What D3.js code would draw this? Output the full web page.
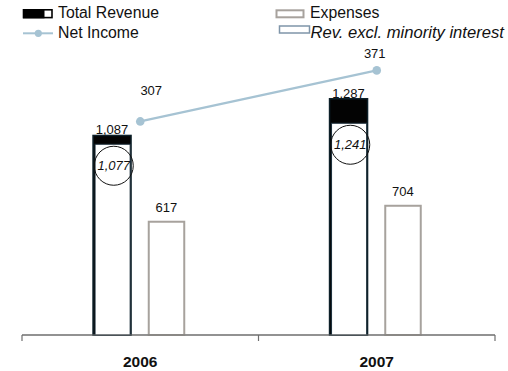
<!DOCTYPE html>
<html>
<head>
<meta charset="utf-8">
<script src="https://cdn.jsdelivr.net/npm/d3@7"></script>
<style>
  html, body { margin: 0; padding: 0; background: #fff; }
  svg { display: block; font-family: "Liberation Sans", Arial, sans-serif; }
</style>
</head>
<body>
<svg id="chart" width="508" height="371"></svg>
<script>
// Annual figures
const years = ["2006", "2007"];
const totalRevenue = [1087, 1287];
const revExclMinority = [1077, 1241];
const expenses = [617, 704];
const netIncome = [307, 371];

// Small nudges for the net income labels
const netLabelNudge = [[11, -26], [-2, -12]];

const svg = d3.select("#chart");
const baseY = 335;

const x = d3.scaleBand().domain(years).range([22, 495]).paddingInner(0).paddingOuter(0);
const yBar = d3.scaleLinear().domain([0, 1400]).range([baseY, 78]);
// secondary axis for the revenue excluding minority interest
const yInner = d3.scaleLinear().domain([-413, 1400]).range([baseY, 102.9]);
// secondary axis for net income
const yLine = d3.scaleLinear().domain([39, 400]).range([baseY, 47.3]);

const cx = d => x(d) + x.bandwidth() / 2;

// Axis
const axis = d3.axisBottom(x).tickSize(0).tickFormat("");
const gAxis = svg.append("g").attr("transform", `translate(0,${baseY})`).call(axis);
gAxis.select(".domain").attr("stroke", "#6f6f6f").attr("stroke-width", 1.2).attr("d", "M22,0H495");
const tickPos = [22, x(years[1]), 495];
gAxis.selectAll("line.sep").data(tickPos).join("line")
  .attr("class", "sep")
  .attr("x1", d => d).attr("x2", d => d)
  .attr("y1", 0).attr("y2", 6)
  .attr("stroke", "#6f6f6f").attr("stroke-width", 1.2);

svg.selectAll("text.cat").data(years).join("text")
  .attr("class", "cat")
  .attr("x", d => cx(d)).attr("y", 366.5)
  .attr("text-anchor", "middle")
  .attr("font-size", 15.5).attr("font-weight", "bold").attr("fill", "#111")
  .text(d => d);

// Total revenue bars (dark fill)
const revW = 38;
svg.selectAll("rect.rev").data(years).join("rect")
  .attr("class", "rev")
  .attr("x", d => cx(d) - 47.2)
  .attr("width", revW)
  .attr("y", (d, i) => yBar(totalRevenue[i]))
  .attr("height", (d, i) => baseY - yBar(totalRevenue[i]))
  .attr("fill", "#030303")
  .attr("stroke", "#0d2029").attr("stroke-width", 1.5);

// Revenue excluding minority interest (white, on top)
svg.selectAll("rect.inner").data(years).join("rect")
  .attr("class", "inner")
  .attr("x", d => cx(d) - 45.2)
  .attr("width", revW - 2.9)
  .attr("y", (d, i) => yInner(revExclMinority[i]))
  .attr("height", (d, i) => baseY - yInner(revExclMinority[i]))
  .attr("fill", "#fff")
  .attr("stroke", "#1c2f3b").attr("stroke-width", 1);

// Expenses bars
svg.selectAll("rect.exp").data(years).join("rect")
  .attr("class", "exp")
  .attr("x", d => cx(d) + 8.5)
  .attr("width", 35.5)
  .attr("y", (d, i) => yBar(expenses[i]))
  .attr("height", (d, i) => baseY - yBar(expenses[i]))
  .attr("fill", "#fff")
  .attr("stroke", "#a7a29d").attr("stroke-width", 2);

// Redraw the baseline over the bar bottoms
svg.append("line").attr("x1", 22).attr("x2", 495).attr("y1", baseY).attr("y2", baseY)
  .attr("stroke", "#6f6f6f").attr("stroke-width", 1.2);

// Value labels
const fmt = d3.format(",");
svg.selectAll("text.revLbl").data(years).join("text")
  .attr("class", "revLbl")
  .attr("x", d => cx(d) - 28.2)
  .attr("y", (d, i) => yBar(totalRevenue[i]) - 1.2)
  .attr("text-anchor", "middle").attr("font-size", 13).attr("fill", "#111")
  .text((d, i) => fmt(totalRevenue[i]));

svg.selectAll("text.expLbl").data(years).join("text")
  .attr("class", "expLbl")
  .attr("x", d => cx(d) + 26.2)
  .attr("y", (d, i) => yBar(expenses[i]) - 9.3)
  .attr("text-anchor", "middle").attr("font-size", 13).attr("fill", "#111")
  .text((d, i) => fmt(expenses[i]));

// Circled labels for revenue excluding minority interest
const circ = svg.selectAll("g.circ").data(years).join("g").attr("class", "circ")
  .attr("transform", (d, i) => `translate(${cx(d) - 26.5},${yInner(revExclMinority[i]) + 21.5})`);
circ.append("circle").attr("r", 19.5).attr("fill", "none").attr("stroke", "#111").attr("stroke-width", 1);
circ.append("text").attr("text-anchor", "middle").attr("dy", "0.36em")
  .attr("font-size", 13).attr("font-style", "italic").attr("fill", "#111")
  .text((d, i) => fmt(revExclMinority[i]));

// Net income line
const line = d3.line().x((d, i) => cx(years[i])).y(d => yLine(d));
svg.append("path").datum(netIncome).attr("d", line)
  .attr("fill", "none").attr("stroke", "#a6c3d3").attr("stroke-width", 2.2);
svg.selectAll("circle.pt").data(netIncome).join("circle")
  .attr("class", "pt")
  .attr("cx", (d, i) => cx(years[i])).attr("cy", d => yLine(d))
  .attr("r", 4.3).attr("fill", "#a6c3d3");
svg.selectAll("text.netLbl").data(netIncome).join("text")
  .attr("class", "netLbl")
  .attr("x", (d, i) => cx(years[i]) + netLabelNudge[i][0])
  .attr("y", (d, i) => yLine(d) + netLabelNudge[i][1])
  .attr("text-anchor", "middle").attr("font-size", 13).attr("fill", "#111")
  .text(d => fmt(d));

// Legend
const lg = svg.append("g").attr("font-size", 15.8).attr("fill", "#111");
// Total Revenue
lg.append("rect").attr("x", 23.5).attr("y", 9.8).attr("width", 28.5).attr("height", 7.8)
  .attr("fill", "#fff").attr("stroke", "#000").attr("stroke-width", 1.6);
lg.append("rect").attr("x", 23).attr("y", 9).attr("width", 21.5).attr("height", 9.3).attr("fill", "#000");
lg.append("text").attr("x", 58).attr("y", 18.3).text("Total Revenue");
// Net Income
lg.append("line").attr("x1", 23).attr("x2", 53).attr("y1", 33.3).attr("y2", 33.3)
  .attr("stroke", "#a6c3d3").attr("stroke-width", 2);
lg.append("circle").attr("cx", 38.3).attr("cy", 33.3).attr("r", 3.6).attr("fill", "#a6c3d3");
lg.append("text").attr("x", 58).attr("y", 37.8).text("Net Income");
// Expenses
lg.append("rect").attr("x", 276.5).attr("y", 10.3).attr("width", 27).attr("height", 7)
  .attr("fill", "#fff").attr("stroke", "#a7a29d").attr("stroke-width", 2);
lg.append("text").attr("x", 310).attr("y", 18.3).text("Expenses");
// Revenue excluding minority interest
lg.append("rect").attr("x", 279.5).attr("y", 26).attr("width", 30).attr("height", 7)
  .attr("fill", "#fff").attr("stroke", "#7f95a9").attr("stroke-width", 1.5);
lg.append("text").attr("x", 310.5).attr("y", 37.5).attr("font-style", "italic")
  .attr("font-size", 16.6)
  .text("Rev. excl. minority interest");
</script>
</body>
</html>
